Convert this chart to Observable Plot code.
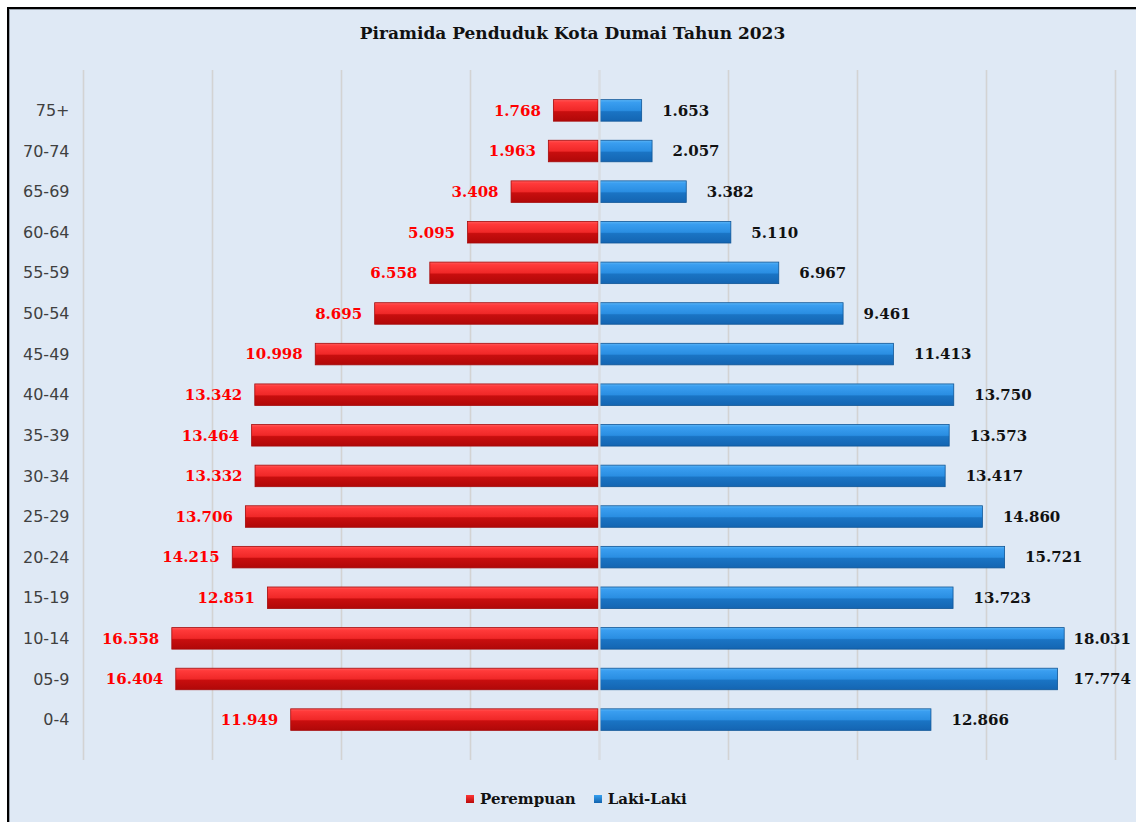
<!DOCTYPE html>
<html>
<head>
<meta charset="utf-8">
<script src="https://cdn.jsdelivr.net/npm/d3@7"></script>
<script src="https://cdn.jsdelivr.net/npm/@observablehq/plot@0.6"></script>
<style>
  html, body { margin: 0; padding: 0; background: #ffffff; width: 1136px; height: 822px; overflow: hidden; }
  #frame { position: absolute; left: 7px; top: 7px; width: 1140px; height: 830px;
    border-left: 2px solid #000; border-top: 2px solid #000; background: #dfe9f5;
    box-shadow: inset 1px 1px 0 #9aa3ad; }
  #title { position: absolute; left: 9px; width: 1127px; top: 23px; text-align: center;
    font-family: "DejaVu Serif", serif; font-weight: bold; font-size: 17px; color: #111; line-height: 20px; }
  #chart { position: absolute; left: 0; top: 60px; }
  #legend { position: absolute; left: 466px; top: 790px; display: flex; align-items: center;
    font-family: "DejaVu Serif", serif; font-weight: bold; font-size: 15px; color: #111; }
  .sw { width: 8px; height: 8px; margin-right: 6px; }
  .item { display: flex; align-items: center; margin-right: 18px; }
</style>
</head>
<body>
<div id="frame"></div>
<div id="title">Piramida Penduduk Kota Dumai Tahun 2023</div>
<div id="chart"></div>
<div id="legend">
  <div class="item"><div class="sw" style="background: linear-gradient(#ff3535, #b80a0a);"></div>Perempuan</div>
  <div class="item"><div class="sw" style="background: linear-gradient(#35a0f0, #1262ad);"></div>Laki-Laki</div>
</div>
<script>
const ages = ["75+","70-74","65-69","60-64","55-59","50-54","45-49","40-44","35-39","30-34","25-29","20-24","15-19","10-14","05-9","0-4"];
const perempuan = [1768,1963,3408,5095,6558,8695,10998,13342,13464,13332,13706,14215,12851,16558,16404,11949];
const lakilaki = [1653,2057,3382,5110,6967,9461,11413,13750,13573,13417,14860,15721,13723,18031,17774,12866];
const gridTicks = [-20000,-15000,-10000,-5000,0,5000,10000,15000,20000];

const fmt = d3.formatLocale({thousands: ".", grouping: [3], decimal: ","}).format(",d");

const female = ages.map((a, i) => ({age: a, value: perempuan[i]}));
const male = ages.map((a, i) => ({age: a, value: lakilaki[i]}));

// labels that would run past the plot edge are held inside it (as the reference does)
const maleLabelMax = 17600;

const svg = Plot.plot({
  width: 1136,
  height: 710,
  marginTop: 10,
  marginBottom: 10,
  marginLeft: 83,
  marginRight: 21,
  style: {background: "transparent", overflow: "visible"},
  x: {domain: [-20000, 20000], axis: null},
  y: {domain: ages, paddingInner: 0.47, paddingOuter: 0.73, round: false, label: null},
  marks: [
    Plot.gridX(gridTicks, {stroke: "#d3d3d3", strokeOpacity: 1, strokeWidth: 1.6}),
    Plot.barX(female, {y: "age", x1: 0, x2: d => -d.value, fill: "url(#gradRed)", stroke: "#a50a0a", strokeWidth: 0.8, insetRight: 1}),
    Plot.barX(male, {y: "age", x1: 0, x2: "value", fill: "url(#gradBlue)", stroke: "#0f5596", strokeWidth: 0.8, insetLeft: 1}),
    Plot.ruleX([0], {stroke: "#d9dde3", strokeWidth: 2}),
    Plot.text(female, {y: "age", x: d => -d.value, text: d => fmt(d.value), textAnchor: "end", dx: -13,
      fill: "#ff0000", fontFamily: "DejaVu Serif", fontWeight: "bold", fontSize: 15}),
    Plot.text(male, {y: "age", x: d => Math.min(d.value, maleLabelMax), text: d => fmt(d.value), textAnchor: "start", dx: 20,
      fill: "#111111", fontFamily: "DejaVu Serif", fontWeight: "bold", fontSize: 15}),
    Plot.axisY({tickSize: 0, tickPadding: 14, fontSize: 16, fontFamily: "DejaVu Sans", fill: "#404040"})
  ]
});

const defs = d3.select(svg).insert("defs", ":first-child");
const addGrad = (id, stops) => {
  const g = defs.append("linearGradient").attr("id", id).attr("x1", 0).attr("y1", 0).attr("x2", 0).attr("y2", 1);
  stops.forEach(([o, c]) => g.append("stop").attr("offset", o).attr("stop-color", c));
};
addGrad("gradRed", [[0, "#ff5a5a"], [0.12, "#ff3a3a"], [0.5, "#f02828"], [0.56, "#c80e0e"], [1, "#b00808"]]);
addGrad("gradBlue", [[0, "#5cb6f6"], [0.12, "#3a9ef0"], [0.5, "#2a8ee2"], [0.56, "#1a74c4"], [1, "#1465b2"]]);

document.getElementById("chart").appendChild(svg);
</script>
</body>
</html>
